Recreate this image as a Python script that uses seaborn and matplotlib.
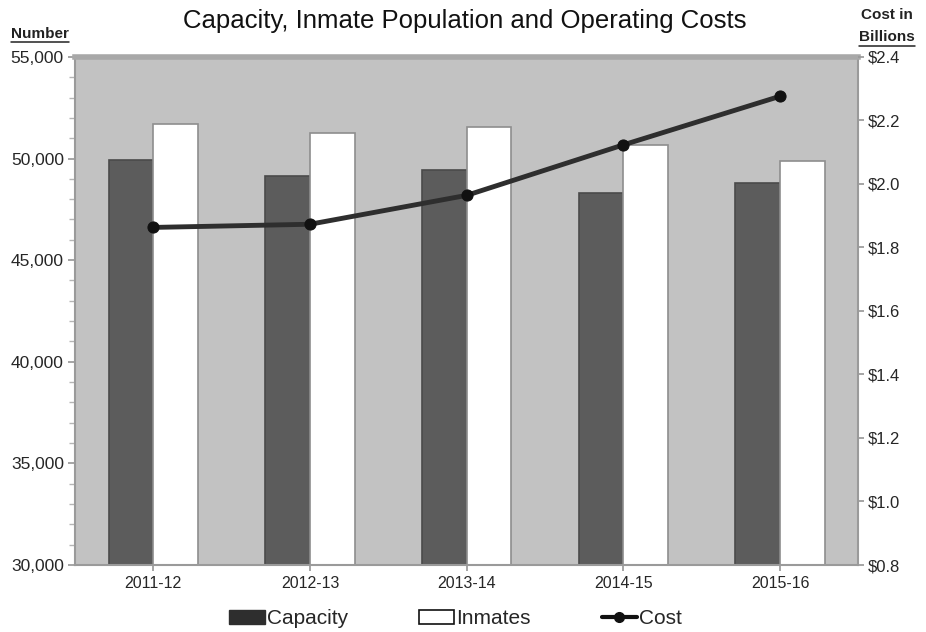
import matplotlib
matplotlib.use("Agg")
import matplotlib.pyplot as plt
import seaborn as sns
import pandas as pd
from matplotlib.patches import Patch
from matplotlib.lines import Line2D
from matplotlib.ticker import FuncFormatter, MultipleLocator

years = ["2011-12", "2012-13", "2013-14", "2014-15", "2015-16"]
capacity = [49950, 49150, 49450, 48300, 48800]
inmates = [51700, 51250, 51550, 50650, 49900]
cost = [1.863, 1.873, 1.964, 2.123, 2.276]

sns.set_theme(style="white")
plt.rcParams["font.family"] = ["Liberation Sans", "DejaVu Sans"]

df = pd.DataFrame({
    "Year": years * 2,
    "Value": capacity + inmates,
    "Series": ["Capacity"] * len(years) + ["Inmates"] * len(years),
})

fig = plt.figure(figsize=(9.26, 6.32), dpi=100)
ax = fig.add_axes([0.081, 0.106, 0.846, 0.804])
ax.set_facecolor("#c2c2c2")

sns.barplot(data=df, x="Year", y="Value", hue="Series",
            palette={"Capacity": "#5c5c5c", "Inmates": "#ffffff"},
            width=0.57, gap=0, ax=ax, legend=False, zorder=2)
for i, p in enumerate(ax.patches):
    if p.get_facecolor()[0] > 0.9:
        p.set_edgecolor("#8e8e8e")
    else:
        p.set_edgecolor("#4a4a4a")
    p.set_linewidth(1.2)

ax.set_ylim(30000, 55000)
ax.set_xlim(-0.5, 4.5)
ax.yaxis.set_major_locator(MultipleLocator(5000))
ax.yaxis.set_minor_locator(MultipleLocator(1000))
ax.yaxis.set_major_formatter(FuncFormatter(lambda v, p: f"{int(v):,}"))
ax.tick_params(axis="y", which="major", left=True, length=5, color="#9a9a9a", labelsize=12.5, pad=3)
ax.tick_params(axis="y", which="minor", left=True, length=4, color="#b5b5b5")
ax.tick_params(axis="x", bottom=True, length=4, color="#9a9a9a", labelsize=11.5, pad=4)
ax.set_xlabel("")
ax.set_ylabel("")
for s in ax.spines.values():
    s.set_color("#9a9a9a")
    s.set_linewidth(1.5)
ax.spines["top"].set_color("#a8a8a8")
ax.spines["top"].set_linewidth(4)

ax2 = ax.twinx()
sns.lineplot(x=years, y=cost, ax=ax2, color="#2e2e2e", linewidth=3.5,
             marker="o", markersize=8, markerfacecolor="#111111",
             markeredgecolor="#111111", zorder=5)
ax2.set_ylim(0.8, 2.4)
ax2.yaxis.set_major_locator(MultipleLocator(0.2))
ax2.yaxis.set_major_formatter(FuncFormatter(lambda v, p: f"${v:.1f}"))
ax2.tick_params(axis="y", right=True, length=4, color="#9a9a9a", labelsize=12, pad=3)
ax2.set_ylabel("")
for s in ax2.spines.values():
    s.set_visible(False)

fig.suptitle("Capacity, Inmate Population and Operating Costs",
             x=0.502, y=0.986, fontsize=18.5, color="#111111")

t1 = fig.text(0.012, 0.935, "Number", fontsize=11, fontweight="bold", color="#222222", ha="left", va="bottom")
t2 = fig.text(0.958, 0.965, "Cost in", fontsize=11, fontweight="bold", color="#222222", ha="center", va="bottom")
t3 = fig.text(0.958, 0.930, "Billions", fontsize=11, fontweight="bold", color="#222222", ha="center", va="bottom")

fig.canvas.draw()
r = fig.canvas.get_renderer()
inv = fig.transFigure.inverted()
for t in (t1, t3):
    bb = t.get_window_extent(renderer=r)
    (x0, y0), (x1, y1) = inv.transform([(bb.x0, bb.y0), (bb.x1, bb.y1)])
    fig.add_artist(Line2D([x0, x1], [y0 - 0.002, y0 - 0.002], transform=fig.transFigure,
                          color="#222222", linewidth=1.1))

handles = [
    Patch(facecolor="#2e2e2e", edgecolor="#2e2e2e"),
    Patch(facecolor="white", edgecolor="#111111", linewidth=1.2),
    Line2D([0], [0], color="#111111", linewidth=3, marker="o", markersize=7),
]
fig.legend(handles, ["Capacity", "Inmates", "Cost"], loc="lower center",
           bbox_to_anchor=(0.492, -0.024), ncol=3, frameon=False, fontsize=15,
           handlelength=1.7, handleheight=0.7, handletextpad=0.1, columnspacing=3.4)

fig.savefig("out.png", dpi=100, facecolor="white")
